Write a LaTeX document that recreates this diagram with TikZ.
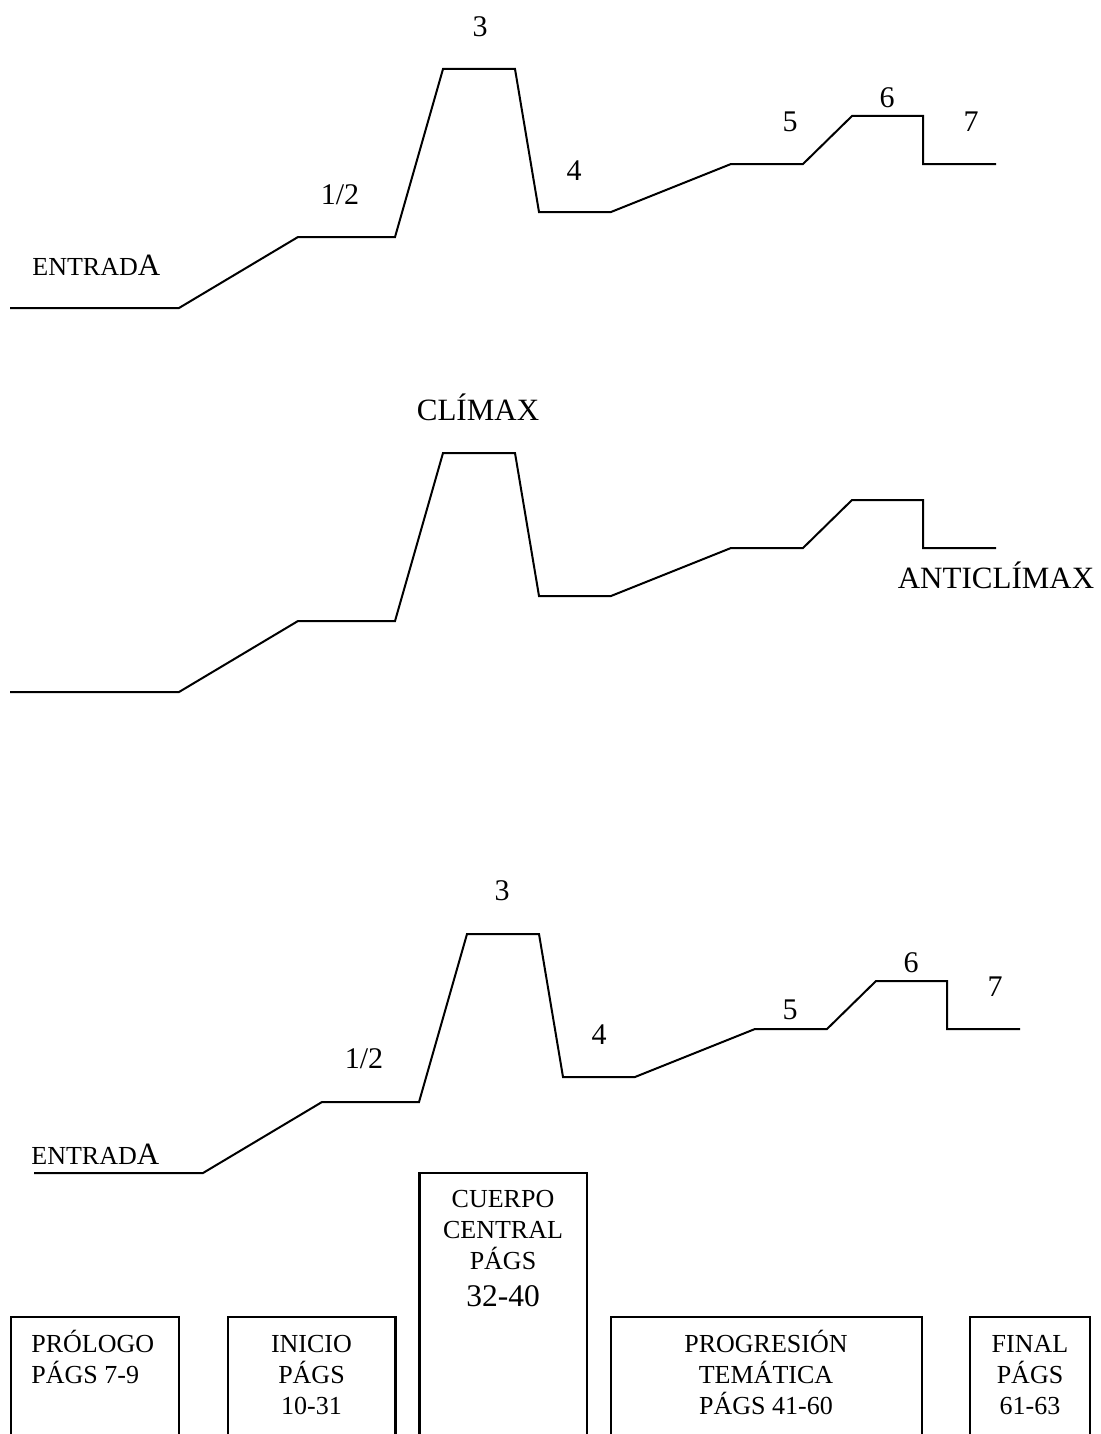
\documentclass[tikz,border=0pt]{standalone}
\usepackage{fontspec}
\setmainfont{Liberation Serif}
\begin{document}
\begin{tikzpicture}[x=0.5pt,y=-0.5pt]
\tikzset{
  curve/.style={line width=1pt, line join=miter},
  frame/.style={line width=1.1pt},
  lbl/.style={inner sep=0pt, anchor=base, font=\fontsize{15}{18}\selectfont},
  biglbl/.style={inner sep=0pt, anchor=base, font=\fontsize{15.5}{18.5}\selectfont},
  entr/.style={inner sep=0pt, anchor=base west, font=\fontsize{13}{15.5}\selectfont},
  % multi-line block text: placed by the baseline of its last line
  boxtext/.style={inner sep=0pt, anchor=base, align=center, font=\fontsize{13}{15.5}\selectfont},
  % the dramatic curve: entrance, rise, climax, fall, second rise, ending
  plotline/.pic={
    \coordinate (-a) at (10,308);
    \coordinate (-b) at (179,308);
    \coordinate (-c) at (298,237);
    \coordinate (-d) at (395,237);
    \coordinate (-e) at (443,69);
    \coordinate (-f) at (515,69);
    \coordinate (-g) at (539,212);
    \coordinate (-h) at (611,212);
    \coordinate (-i) at (731,164);
    \coordinate (-j) at (803,164);
    \coordinate (-k) at (852,116);
    \coordinate (-l) at (923,116);
    \coordinate (-m) at (923,164);
    \coordinate (-n) at (996,164);
    \draw[curve] (-a) -- (-b) -- (-c) -- (-d) -- (-e) -- (-f) -- (-g) -- (-h)
      -- (-i) -- (-j) -- (-k) -- (-l) -- (-m) -- (-n);
  }
}
\useasboundingbox (0,0) rectangle (1101,1434);

% ---- first curve, numbered stages
\pic (u) at (0,0) {plotline};
\node[entr] (u-entrada) at (32,275) {ENTRAD{\fontsize{15.5}{18}\selectfont A}};
\node[lbl] (u-n12) at (340,204) {1/2};
\node[lbl] (u-n3) at (480,37) {3};
\node[lbl] (u-n4) at (574,180) {4};
\node[lbl] (u-n5) at (790,132) {5};
\node[lbl] (u-n6) at (887,108) {6};
\node[lbl] (u-n7) at (971,132) {7};

% ---- second curve, climax and anticlimax
\pic (v) at (0,384) {plotline};
\node[biglbl] (climax) at (478,420) {CLÍMAX};
\node[biglbl] (anticlimax) at (996,588) {ANTICLÍMAX};

% ---- third curve, over the page blocks
\pic (w) at (24,865) {plotline};
\node[entr] (w-entrada) at (31,1164) {ENTRAD{\fontsize{15.5}{18}\selectfont A}};
\node[lbl] (w-n12) at (364,1068) {1/2};
\node[lbl] (w-n3) at (502,900) {3};
\node[lbl] (w-n4) at (599,1044) {4};
\node[lbl] (w-n5) at (790,1019) {5};
\node[lbl] (w-n6) at (911,972) {6};
\node[lbl] (w-n7) at (995,996) {7};

% ---- page blocks (open at the bottom)
\coordinate (pr-bl) at (10.7,1434);   \coordinate (pr-tl) at (10.7,1317);
\coordinate (pr-tr) at (179,1317);    \coordinate (pr-br) at (179,1434);
\coordinate (in-bl) at (227.6,1434);  \coordinate (in-tl) at (227.6,1317);
\coordinate (in-tr) at (395.4,1317);  \coordinate (in-br) at (395.4,1434);
\coordinate (cu-bl) at (419.5,1434);  \coordinate (cu-tl) at (419.5,1172.7);
\coordinate (cu-tr) at (587,1172.7);  \coordinate (cu-br) at (587,1434);
\coordinate (pg-bl) at (611,1434);    \coordinate (pg-tl) at (611,1317);
\coordinate (pg-tr) at (922,1317);    \coordinate (pg-br) at (922,1434);
\coordinate (fi-bl) at (970,1434);    \coordinate (fi-tl) at (970,1317);
\coordinate (fi-tr) at (1090,1317);   \coordinate (fi-br) at (1090,1434);

\draw[frame] (pr-bl) -- (pr-tl) -- (pr-tr) -- (pr-br);
\draw[frame] (in-bl) -- (in-tl) -- (in-tr) -- (in-br);
\draw[frame] (cu-bl) -- (cu-tl) -- (cu-tr) -- (cu-br);
\draw[frame] (pg-bl) -- (pg-tl) -- (pg-tr) -- (pg-br);
\draw[frame] (fi-bl) -- (fi-tl) -- (fi-tr) -- (fi-br);

\node[boxtext, anchor=base west, align=left] (prologo) at (31,1383.5) {PRÓLOGO\\PÁGS 7-9};
\node[boxtext] (inicio) at (311.5,1414.5) {INICIO\\PÁGS\\10-31};
\node[boxtext] (cuerpo) at (503,1306) {CUERPO\\CENTRAL\\PÁGS\\[3pt]{\fontsize{15.75}{19}\selectfont 32-40}};
\node[boxtext] (progresion) at (766,1414.5) {PROGRESIÓN\\TEMÁTICA\\PÁGS 41-60};
\node[boxtext] (final) at (1030,1414.5) {FINAL\\PÁGS\\61-63};
\end{tikzpicture}
\end{document}
